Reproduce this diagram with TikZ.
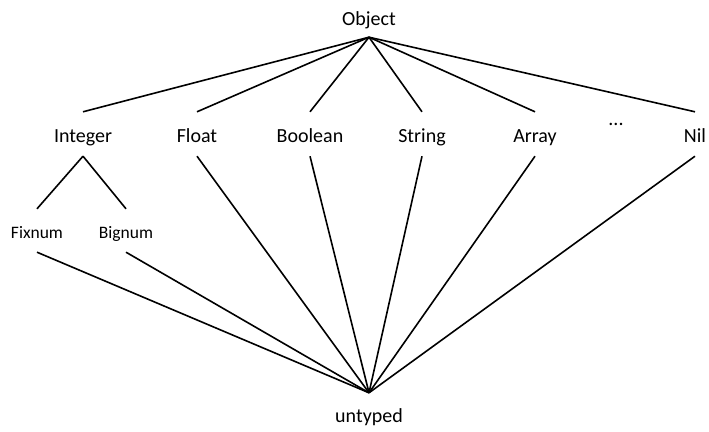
\documentclass[tikz,border=0pt]{standalone}
\usepackage{fontspec}
\setmainfont{Carlito}
\begin{document}
\begin{tikzpicture}[x=1pt,y=-1pt,
  edge/.style={line width=1.6pt,black},
  typename/.style={font=\fontsize{20}{24}\selectfont,inner xsep=0pt},
  subname/.style={font=\fontsize{17.5}{21}\selectfont,inner xsep=0pt},
  lvltop/.style={typename,anchor=base,text height=20pt,text depth=4pt,inner ysep=10pt},
  lvlsub/.style={subname,anchor=base,text height=19pt,text depth=4pt,inner ysep=10pt}]
\useasboundingbox (0,0) rectangle (709,431);

% root and bottom of the lattice
\node[typename,anchor=base,text height=13pt,text depth=4pt,inner ysep=8pt] (obj) at (369,25) {Object};
\node[typename,anchor=base,text height=13pt,text depth=4pt,inner ysep=16pt] (unt) at (369,422) {untyped};

% concrete classes
\node[lvltop] (int) at (83,142) {Integer};
\node[lvltop] (flt) at (197,142) {Float};
\node[lvltop] (bool) at (310,142) {Boolean};
\node[lvltop] (str) at (422,142) {String};
\node[lvltop] (arr) at (535,142) {Array};
\node[typename,anchor=base] (more) at (616,125) {...};
\node[lvltop] (nil) at (695,142) {Nil};

% subclasses of Integer
\node[lvlsub] (fix) at (37,238) {Fixnum};
\node[lvlsub] (big) at (126,238) {Bignum};

% edges from Object
\foreach \n in {int,flt,bool,str,arr,nil}
  \draw[edge] (obj.south) -- (\n.north);

% Integer hierarchy
\draw[edge] (int.south) -- (fix.north);
\draw[edge] (int.south) -- (big.north);

% edges into untyped
\foreach \n in {fix,big,flt,bool,str,arr,nil}
  \draw[edge] (\n.south) -- (unt.north);
\end{tikzpicture}
\end{document}
